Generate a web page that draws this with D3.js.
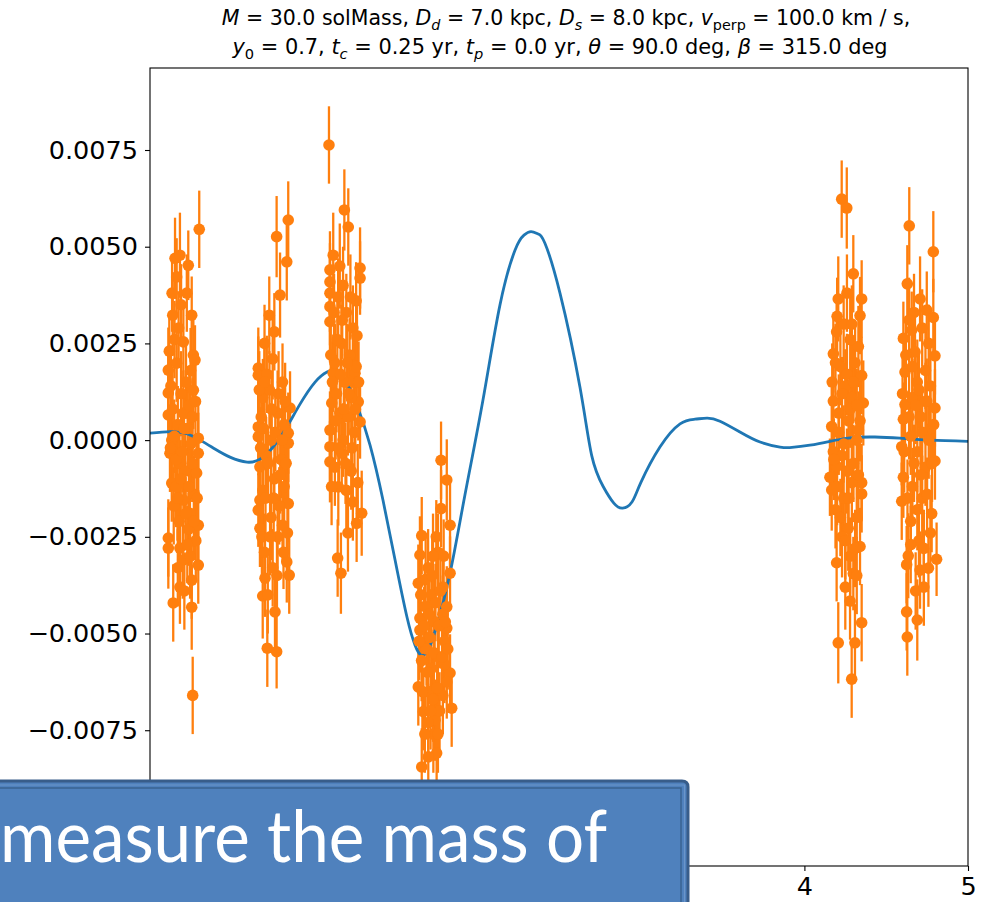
<!DOCTYPE html>
<html><head><meta charset="utf-8">
<script src="https://cdn.jsdelivr.net/npm/d3@7/dist/d3.min.js"></script>
<style>
html,body{margin:0;padding:0;background:#fff;}
svg{display:block;}
</style></head>
<body>
<script>
// ---- Data ----
const xTicks = [0, 1, 2, 3, 4, 5];
const xTickLabelsShown = [4, 5];
const yTicks = [-0.0075, -0.005, -0.0025, 0, 0.0025, 0.005, 0.0075];

// model curve (time in yr, signal)
const modelT = [0.000,0.122,0.214,0.306,0.397,0.489,0.593,0.672,0.746,0.825,0.917,1.009,1.082,1.131,1.192,1.265,1.345,1.424,1.498,1.571,1.620,1.657,1.699,1.754,1.834,1.925,2.035,2.139,2.231,2.286,2.329,2.372,2.414,2.506,2.628,2.700,2.770,2.835,2.889,2.946,3.000,3.117,3.240,3.331,3.405,3.484,3.606,3.729,3.851,3.924,4.034,4.156,4.279,4.431,4.584,4.768,5.000];
const modelY = [0.00018,0.00022,0.00018,0.00000,-0.00023,-0.00044,-0.00057,-0.00049,-0.00021,0.00026,0.00093,0.00150,0.00176,0.00178,0.00155,0.00090,-0.00013,-0.00155,-0.00310,-0.00458,-0.00530,-0.00556,-0.00543,-0.00478,-0.00344,-0.00142,0.00103,0.00349,0.00491,0.00530,0.00539,0.00533,0.00509,0.00380,0.00137,-0.00040,-0.00120,-0.00163,-0.00176,-0.00160,-0.00110,-0.00018,0.00042,0.00054,0.00057,0.00049,0.00021,-0.00005,-0.00018,-0.00019,-0.00013,-0.00003,0.00006,0.00008,0.00005,0.00000,-0.00003];

// observations: [time, value, error]
const obs1 = [[0.301,0.00545,0.00100],[0.153,0.00470,0.00105],[0.183,0.00478,0.00110],[0.234,0.00452,0.00090],[0.163,0.00422,0.00100],[0.139,0.00323,0.00105],[0.255,0.00323,0.00100],[0.204,0.00254,0.00095],[0.265,0.00220,0.00100],[0.112,0.00181,0.00110],[0.163,0.00199,0.00100],[0.275,0.00207,0.00090],[0.112,0.00122,0.00105],[0.265,0.00129,0.00100],[0.112,0.00065,0.00100],[0.204,0.00070,0.00110],[0.133,0.00000,0.00100],[0.295,0.00005,0.00095],[0.122,-0.00034,0.00100],[0.295,-0.00034,0.00105],[0.133,-0.00111,0.00100],[0.285,-0.00085,0.00100],[0.204,-0.00155,0.00110],[0.244,-0.00189,0.00100],[0.295,-0.00220,0.00090],[0.112,-0.00253,0.00100],[0.112,-0.00279,0.00105],[0.183,-0.00279,0.00100],[0.295,-0.00323,0.00100],[0.255,-0.00362,0.00100],[0.183,-0.00380,0.00095],[0.142,-0.00421,0.00100],[0.255,-0.00432,0.00110],[0.261,-0.00660,0.00100],[0.150,0.00260,0.00100],[0.190,0.00350,0.00105],[0.220,0.00150,0.00095],[0.240,0.00090,0.00100],[0.170,0.00040,0.00100],[0.230,0.00030,0.00110],[0.250,-0.00010,0.00100],[0.180,-0.00060,0.00095],[0.215,-0.00080,0.00100],[0.160,-0.00120,0.00105],[0.270,-0.00140,0.00100],[0.145,-0.00170,0.00100],[0.235,-0.00230,0.00095],[0.200,-0.00310,0.00100],[0.280,-0.00260,0.00105],[0.125,-0.00020,0.00100],[0.260,0.00060,0.00100],[0.190,0.00120,0.00110],
[0.118,0.00230,0.00100],[0.128,0.00140,0.00105],[0.138,0.00080,0.00100],[0.148,0.00010,0.00095],[0.158,-0.00050,0.00100],[0.168,-0.00150,0.00110],[0.178,-0.00210,0.00100],[0.188,-0.00100,0.00100],[0.198,-0.00030,0.00105],[0.208,0.00030,0.00100],[0.218,-0.00190,0.00095],[0.228,-0.00270,0.00100],[0.238,-0.00120,0.00100],[0.248,0.00180,0.00110],[0.258,-0.00060,0.00100],[0.268,-0.00210,0.00100],[0.278,0.00100,0.00105],[0.288,-0.00150,0.00100],[0.135,0.00380,0.00100],[0.175,0.00290,0.00095],[0.225,0.00380,0.00100],[0.245,-0.00300,0.00110],[0.170,-0.00330,0.00100],[0.210,-0.00390,0.00100]];
const obs2 = [[0.845,0.00569,0.00100],[0.774,0.00526,0.00105],[0.836,0.00461,0.00100],[0.795,0.00375,0.00110],[0.729,0.00323,0.00100],[0.662,0.00186,0.00105],[0.662,0.00168,0.00100],[0.856,0.00083,0.00095],[0.662,0.00034,0.00100],[0.845,0.00018,0.00105],[0.662,0.00009,0.00100],[0.845,-0.00008,0.00100],[0.672,-0.00069,0.00110],[0.845,-0.00164,0.00100],[0.672,-0.00155,0.00100],[0.662,-0.00181,0.00095],[0.672,-0.00228,0.00100],[0.836,-0.00315,0.00105],[0.851,-0.00349,0.00100],[0.703,-0.00357,0.00100],[0.689,-0.00403,0.00110],[0.764,-0.00444,0.00100],[0.717,-0.00538,0.00100],[0.774,-0.00547,0.00095],[0.700,0.00250,0.00100],[0.750,0.00210,0.00105],[0.810,0.00150,0.00100],[0.690,0.00110,0.00100],[0.780,0.00070,0.00110],[0.820,0.00040,0.00100],[0.740,0.00000,0.00095],[0.710,-0.00040,0.00100],[0.800,-0.00050,0.00100],[0.760,-0.00100,0.00105],[0.690,-0.00130,0.00100],[0.820,-0.00120,0.00100],[0.740,-0.00200,0.00110],[0.780,-0.00250,0.00100],[0.700,-0.00290,0.00100],[0.810,-0.00220,0.00095],[0.750,-0.00330,0.00100],[0.730,0.00130,0.00100],[0.680,0.00060,0.00105],[0.790,-0.00170,0.00100],
[0.668,0.00130,0.00100],[0.676,-0.00020,0.00105],[0.684,-0.00250,0.00100],[0.694,0.00030,0.00100],[0.706,-0.00150,0.00110],[0.714,0.00170,0.00100],[0.722,-0.00060,0.00095],[0.734,-0.00250,0.00100],[0.744,0.00080,0.00100],[0.756,-0.00150,0.00105],[0.766,0.00020,0.00100],[0.776,-0.00350,0.00100],[0.786,0.00120,0.00110],[0.796,-0.00090,0.00100],[0.806,0.00000,0.00100],[0.816,-0.00290,0.00095],[0.826,0.00100,0.00100],[0.832,-0.00060,0.00105],[0.700,0.00150,0.00100],[0.760,0.00280,0.00100],[0.840,-0.00240,0.00110],[0.720,-0.00400,0.00100]];
const obs3 = [[1.094,0.00763,0.00100],[1.188,0.00595,0.00105],[1.212,0.00551,0.00100],[1.120,0.00478,0.00110],[1.100,0.00440,0.00100],[1.284,0.00445,0.00105],[1.100,0.00409,0.00100],[1.284,0.00419,0.00095],[1.100,0.00380,0.00100],[1.100,0.00345,0.00100],[1.100,0.00306,0.00105],[1.120,0.00173,0.00100],[1.253,0.00173,0.00110],[1.111,0.00096,0.00100],[1.273,0.00099,0.00100],[1.284,0.00047,0.00095],[1.100,0.00026,0.00100],[1.100,-0.00017,0.00100],[1.100,-0.00056,0.00105],[1.172,-0.00034,0.00100],[1.151,-0.00121,0.00100],[1.294,-0.00189,0.00110],[1.263,-0.00215,0.00100],[1.147,-0.00305,0.00100],[1.167,-0.00344,0.00105],[1.150,0.00370,0.00100],[1.200,0.00330,0.00100],[1.240,0.00290,0.00110],[1.170,0.00250,0.00100],[1.220,0.00220,0.00095],[1.130,0.00200,0.00100],[1.260,0.00190,0.00100],[1.190,0.00150,0.00105],[1.140,0.00120,0.00100],[1.230,0.00110,0.00100],[1.160,0.00070,0.00110],[1.210,0.00060,0.00100],[1.250,0.00020,0.00100],[1.180,0.00000,0.00095],[1.130,-0.00070,0.00100],[1.230,-0.00080,0.00100],[1.200,-0.00130,0.00105],[1.270,-0.00110,0.00100],[1.180,0.00400,0.00100],[1.260,0.00360,0.00100],
[1.105,0.00220,0.00100],[1.115,0.00150,0.00105],[1.125,0.00330,0.00100],[1.135,0.00050,0.00100],[1.145,0.00260,0.00110],[1.155,-0.00020,0.00100],[1.165,0.00170,0.00095],[1.175,0.00310,0.00100],[1.185,0.00080,0.00100],[1.195,-0.00060,0.00105],[1.205,0.00200,0.00100],[1.215,0.00120,0.00100],[1.225,0.00370,0.00110],[1.235,-0.00020,0.00100],[1.245,0.00150,0.00100],[1.255,0.00080,0.00095],[1.265,0.00270,0.00100],[1.275,0.00150,0.00105],[1.110,-0.00120,0.00100],[1.240,-0.00160,0.00100],[1.160,0.00450,0.00110],[1.210,-0.00240,0.00100]];
const obs4 = [[1.779,-0.00052,0.00100],[1.814,-0.00103,0.00105],[1.779,-0.00177,0.00100],[1.834,-0.00220,0.00110],[1.661,-0.00247,0.00100],[1.650,-0.00297,0.00100],[1.834,-0.00344,0.00095],[1.640,-0.00370,0.00100],[1.814,-0.00431,0.00105],[1.650,-0.00460,0.00100],[1.814,-0.00486,0.00100],[1.650,-0.00491,0.00110],[1.834,-0.00602,0.00100],[1.640,-0.00638,0.00100],[1.814,-0.00625,0.00095],[1.844,-0.00693,0.00100],[1.671,-0.00702,0.00100],[1.742,-0.00724,0.00105],[1.732,-0.00760,0.00100],[1.752,-0.00809,0.00100],[1.701,-0.00819,0.00110],[1.661,-0.00845,0.00100],[1.700,-0.00330,0.00100],[1.760,-0.00290,0.00100],[1.720,-0.00400,0.00105],[1.790,-0.00380,0.00100],[1.680,-0.00430,0.00100],[1.740,-0.00470,0.00110],[1.800,-0.00520,0.00100],[1.690,-0.00540,0.00095],[1.760,-0.00560,0.00100],[1.720,-0.00590,0.00100],[1.660,-0.00570,0.00105],[1.790,-0.00660,0.00100],[1.700,-0.00650,0.00100],[1.770,-0.00700,0.00100],[1.730,-0.00670,0.00110],[1.680,-0.00760,0.00100],[1.800,-0.00580,0.00100],[1.750,-0.00250,0.00095],[1.710,-0.00510,0.00100],[1.790,-0.00450,0.00100],
[1.645,-0.00520,0.00100],[1.655,-0.00400,0.00105],[1.665,-0.00650,0.00100],[1.675,-0.00480,0.00100],[1.685,-0.00360,0.00110],[1.695,-0.00600,0.00100],[1.705,-0.00450,0.00095],[1.715,-0.00700,0.00100],[1.725,-0.00350,0.00100],[1.735,-0.00550,0.00105],[1.745,-0.00420,0.00100],[1.755,-0.00640,0.00100],[1.765,-0.00480,0.00110],[1.775,-0.00390,0.00100],[1.785,-0.00560,0.00100],[1.795,-0.00300,0.00095],[1.805,-0.00470,0.00100],[1.820,-0.00540,0.00105],[1.700,-0.00730,0.00100],[1.760,-0.00760,0.00100],[1.730,-0.00300,0.00110]];
const obs5 = [[4.228,0.00623,0.00100],[4.259,0.00600,0.00105],[4.299,0.00430,0.00100],[4.207,0.00365,0.00110],[4.350,0.00365,0.00100],[4.340,0.00322,0.00100],[4.197,0.00280,0.00095],[4.177,0.00223,0.00100],[4.330,0.00242,0.00105],[4.350,0.00167,0.00100],[4.177,0.00101,0.00100],[4.360,0.00096,0.00110],[4.167,0.00035,0.00100],[4.330,0.00026,0.00100],[4.177,-0.00030,0.00095],[4.197,-0.00068,0.00100],[4.156,-0.00096,0.00100],[4.167,-0.00129,0.00105],[4.350,-0.00110,0.00100],[4.350,-0.00139,0.00100],[4.268,-0.00228,0.00110],[4.340,-0.00275,0.00100],[4.197,-0.00317,0.00100],[4.299,-0.00345,0.00095],[4.279,-0.00416,0.00100],[4.350,-0.00472,0.00100],[4.207,-0.00524,0.00105],[4.309,-0.00524,0.00100],[4.289,-0.00618,0.00100],[4.240,0.00300,0.00100],[4.280,0.00260,0.00110],[4.220,0.00190,0.00100],[4.310,0.00200,0.00100],[4.250,0.00140,0.00095],[4.290,0.00110,0.00100],[4.210,0.00070,0.00100],[4.270,0.00050,0.00105],[4.320,0.00000,0.00100],[4.230,-0.00040,0.00100],[4.260,-0.00080,0.00110],[4.300,-0.00060,0.00100],[4.190,-0.00180,0.00100],[4.320,-0.00200,0.00095],[4.240,-0.00150,0.00100],[4.280,-0.00300,0.00100],[4.230,-0.00250,0.00105],[4.260,0.00380,0.00100],
[4.170,0.00150,0.00100],[4.180,-0.00050,0.00105],[4.190,0.00200,0.00100],[4.200,-0.00120,0.00100],[4.210,0.00020,0.00110],[4.220,-0.00200,0.00100],[4.230,0.00120,0.00095],[4.240,-0.00010,0.00100],[4.250,-0.00260,0.00100],[4.260,0.00170,0.00105],[4.270,-0.00150,0.00100],[4.280,0.00080,0.00100],[4.290,-0.00110,0.00110],[4.300,0.00150,0.00100],[4.310,-0.00280,0.00100],[4.320,0.00090,0.00095],[4.330,-0.00090,0.00100],[4.340,0.00050,0.00105],[4.200,0.00320,0.00100],[4.290,0.00300,0.00100],[4.250,-0.00380,0.00110],[4.320,-0.00350,0.00100]];
const obs6 = [[4.641,0.00554,0.00100],[4.788,0.00487,0.00105],[4.629,0.00404,0.00100],[4.707,0.00365,0.00110],[4.748,0.00336,0.00100],[4.788,0.00317,0.00100],[4.605,0.00263,0.00095],[4.656,0.00284,0.00100],[4.676,0.00228,0.00105],[4.798,0.00218,0.00100],[4.615,0.00176,0.00100],[4.748,0.00101,0.00110],[4.615,0.00092,0.00100],[4.798,0.00083,0.00100],[4.605,0.00054,0.00095],[4.595,-0.00017,0.00100],[4.798,-0.00054,0.00100],[4.605,-0.00096,0.00105],[4.595,-0.00158,0.00100],[4.778,-0.00190,0.00100],[4.635,-0.00299,0.00110],[4.625,-0.00322,0.00100],[4.707,-0.00336,0.00100],[4.808,-0.00308,0.00095],[4.758,-0.00331,0.00100],[4.625,-0.00444,0.00100],[4.690,-0.00465,0.00105],[4.629,-0.00509,0.00100],[4.670,0.00330,0.00100],[4.720,0.00290,0.00100],[4.690,0.00150,0.00110],[4.740,0.00180,0.00100],[4.660,0.00110,0.00100],[4.710,0.00060,0.00095],[4.770,0.00030,0.00100],[4.650,0.00010,0.00100],[4.690,-0.00030,0.00105],[4.740,-0.00070,0.00100],[4.660,-0.00120,0.00100],[4.720,-0.00150,0.00110],[4.770,-0.00240,0.00100],[4.650,-0.00210,0.00100],[4.700,-0.00260,0.00095],[4.760,0.00250,0.00100],[4.680,-0.00390,0.00100],
[4.600,0.00120,0.00100],[4.610,-0.00030,0.00105],[4.620,0.00220,0.00100],[4.630,-0.00150,0.00100],[4.640,0.00060,0.00110],[4.650,-0.00270,0.00100],[4.660,0.00190,0.00095],[4.670,-0.00060,0.00100],[4.680,0.00090,0.00100],[4.690,-0.00180,0.00105],[4.700,0.00130,0.00100],[4.710,-0.00090,0.00100],[4.720,0.00020,0.00110],[4.730,-0.00280,0.00100],[4.740,0.00100,0.00100],[4.750,-0.00140,0.00095],[4.760,0.00000,0.00100],[4.770,0.00140,0.00105],[4.780,-0.00060,0.00100],[4.790,0.00040,0.00100],[4.640,0.00310,0.00110],[4.730,-0.00380,0.00100]];

const titleLine1 = [["M","i"],[" = 30.0 solMass, ",""],["D","i"],["d","is"],[" = 7.0 kpc, ",""],["D","i"],["s","is"],[" = 8.0 kpc, ",""],["v","i"],["perp","s"],[" = 100.0 km / s,",""]];
const titleLine2 = [["y","i"],["0","s"],[" = 0.7, ",""],["t","i"],["c","is"],[" = 0.25 yr, ",""],["t","i"],["p","is"],[" = 0.0 yr, ",""],["θ","i"],[" = 90.0 deg, ",""],["β","i"],[" = 315.0 deg",""]];
const overlayText = "measure the mass of";

// ---- Drawing ----
const W = 981, H = 902;
const svg = d3.select("body").append("svg").attr("width", W).attr("height", H);

const x = d3.scaleLinear().domain([0, 5]).range([150, 968]);
const y = d3.scaleLinear().domain([-0.01101, 0.00962]).range([866, 68]);

svg.append("clipPath").attr("id","clip").append("rect")
  .attr("x",150).attr("y",68).attr("width",818).attr("height",798);

const obs = [].concat(obs1, obs2, obs3, obs4, obs5, obs6);
const orange = "#ff7f0e", blue = "#1f77b4";
const plot = svg.append("g").attr("clip-path","url(#clip)");

plot.append("g").selectAll("line").data(obs).join("line")
  .attr("x1", d => x(d[0])).attr("x2", d => x(d[0]))
  .attr("y1", d => y(d[1] - d[2])).attr("y2", d => y(d[1] + d[2]))
  .attr("stroke", orange).attr("stroke-width", 2.3);

const line = d3.line().x((d,i) => x(modelT[i])).y(d => y(d)).curve(d3.curveNatural);
plot.append("path").attr("d", line(modelY)).attr("fill","none")
  .attr("stroke", blue).attr("stroke-width", 2.8);

plot.append("g").selectAll("circle").data(obs).join("circle")
  .attr("cx", d => x(d[0])).attr("cy", d => y(d[1])).attr("r", 5.8)
  .attr("fill", orange);

// axes
const fmt = d3.format(".4f");
const yAxis = d3.axisLeft(y).tickValues(yTicks).tickFormat(fmt).tickSize(5).tickPadding(7);
const xAxis = d3.axisBottom(x).tickValues(xTicks)
  .tickFormat(d => xTickLabelsShown.includes(d) ? String(d) : "").tickSize(5).tickPadding(6);
const gy = svg.append("g").attr("transform","translate(150,0)").call(yAxis);
const gx = svg.append("g").attr("transform","translate(0,866)").call(xAxis);
[gx, gy].forEach(g => {
  g.select(".domain").remove();
  g.selectAll("line").attr("stroke","#000").attr("stroke-width",1.1);
  g.selectAll("text").attr("font-family","DejaVu Sans").attr("font-size",25.5).attr("fill","#000");
});
gx.selectAll("text").filter(d => !xTickLabelsShown.includes(d)).remove();
svg.append("rect").attr("x",150).attr("y",68).attr("width",818).attr("height",798)
  .attr("fill","none").attr("stroke","#000").attr("stroke-width",1.1);

// title
function drawTitle(parts, xx, yy, fs){
  const t = svg.append("text").attr("x", xx).attr("y", yy).attr("text-anchor","middle")
    .attr("font-family","DejaVu Sans").attr("font-size",fs).attr("fill","#000");
  let shifted = false;
  parts.forEach(p => {
    const ts = t.append("tspan").text(p[0]);
    if (p[1].includes("i")) ts.attr("font-style","italic");
    const sub = p[1].includes("s");
    if (sub && !shifted) { ts.attr("dy", 4.5).attr("font-size", fs*0.7); shifted = true; }
    else if (sub) { ts.attr("font-size", fs*0.7); }
    else if (shifted) { ts.attr("dy", -4.5); shifted = false; }
  });
}
drawTitle(titleLine1, 566, 25, 20.5);
drawTitle(titleLine2, 560, 54, 20.9);

// overlay box (slide element)
const box = svg.append("g");
box.append("path")
  .attr("d","M-10,781 H682 Q688,781 688,787 V910 H-10 Z")
  .attr("fill","#4f81bd").attr("stroke","#385d8a").attr("stroke-width",3);
box.append("path")
  .attr("d","M-10,788 H681 V910")
  .attr("fill","none").attr("stroke","#3a6391").attr("stroke-width",1.5);
box.append("path")
  .attr("d","M-10,785 H684.5 V910")
  .attr("fill","none").attr("stroke","#6b95c9").attr("stroke-width",1.2);
box.append("text").attr("x", 0).attr("y", 862)
  .attr("font-family","Lato").attr("font-size",72).attr("fill","#fff")
  .attr("textLength", 607).attr("lengthAdjust","spacingAndGlyphs")
  .text(overlayText);
</script>
</body></html>
